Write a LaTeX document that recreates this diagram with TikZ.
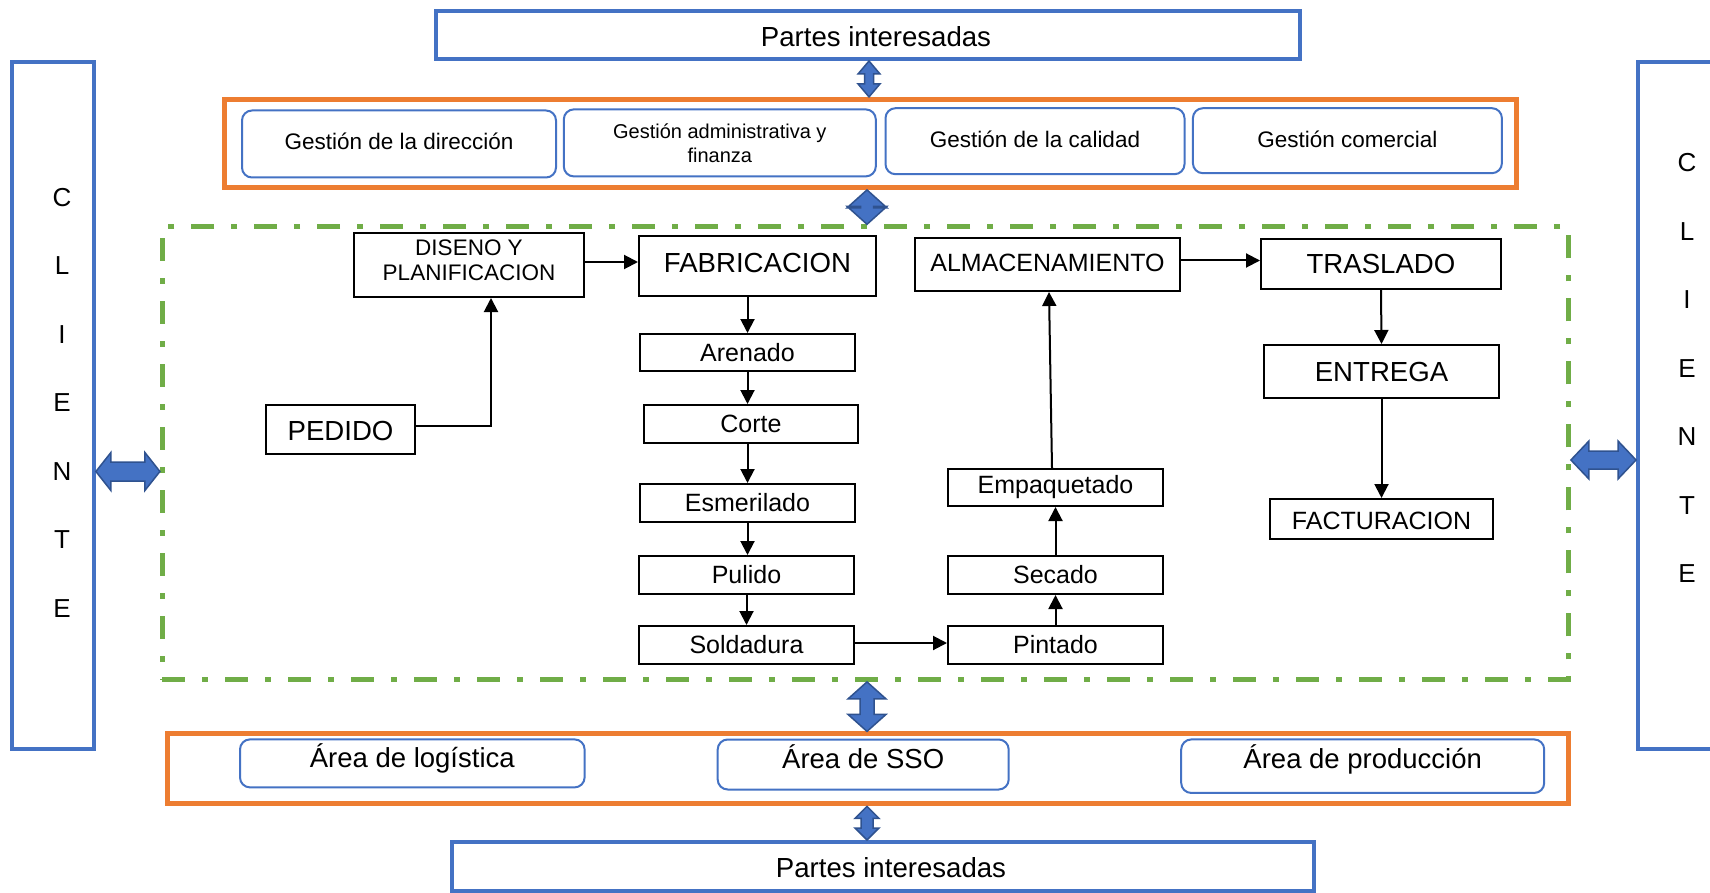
\documentclass[tikz,border=0pt]{standalone}
\usepackage{fontspec}
\setmainfont{Liberation Sans}
\usetikzlibrary{arrows.meta,calc}

\definecolor{frameblue}{HTML}{4472C4}
\definecolor{edgeblue}{HTML}{2F528F}
\definecolor{frameorange}{HTML}{ED7D31}
\definecolor{framegreen}{HTML}{70AD47}

\newcommand{\setfs}[2]{\fontsize{#1}{#2}\selectfont}

% vertical double block arrow: top tip, bottom tip, head width, shaft width, head length
\newcommand{\vblock}[5]{%
  \filldraw[blockarrow] (#1) -- ($(#1)+(#3/2,#5)$) -- ($(#1)+(#4/2,#5)$)
    -- ($(#2)+(#4/2,-#5)$) -- ($(#2)+(#3/2,-#5)$) -- (#2)
    -- ($(#2)+(-#3/2,-#5)$) -- ($(#2)+(-#4/2,-#5)$)
    -- ($(#1)+(-#4/2,#5)$) -- ($(#1)+(-#3/2,#5)$) -- cycle;}
% horizontal double block arrow: left tip, right tip, head height, shaft height, head length
\newcommand{\hblock}[5]{%
  \filldraw[blockarrow] (#1) -- ($(#1)+(#5,-#3/2)$) -- ($(#1)+(#5,-#4/2)$)
    -- ($(#2)+(-#5,-#4/2)$) -- ($(#2)+(-#5,-#3/2)$) -- (#2)
    -- ($(#2)+(-#5,#3/2)$) -- ($(#2)+(-#5,#4/2)$)
    -- ($(#1)+(#5,#4/2)$) -- ($(#1)+(#5,#3/2)$) -- cycle;}

\begin{document}
\begin{tikzpicture}[x=1pt,y=-1pt,
  bluebox/.style={draw=frameblue, line width=4pt, inner sep=0pt},
  roundbox/.style={draw=frameblue, line width=2pt, rounded corners=10pt, inner sep=0pt},
  orangeframe/.style={draw=frameorange, line width=5pt, inner sep=0pt},
  greenframe/.style={draw=framegreen, line width=5pt, inner sep=0pt,
    dash pattern=on 23pt off 17pt on 6pt off 17pt},
  stepbox/.style={draw=black, line width=2pt, inner sep=0pt},
  flow/.style={draw=black, line width=2pt, -{Triangle[length=14pt,width=14pt]}},
  blockarrow/.style={fill=frameblue, draw=edgeblue, line width=1.5pt, line join=miter},
  bigtxt/.style={font=\setfs{27.6}{30}},
  midtxt/.style={font=\setfs{25}{28}},
  smalltxt/.style={font=\setfs{22.5}{25}},
  raisetext/.style={text depth=#1}
]
\useasboundingbox (0,0) rectangle (1710,893);
\clip (0,0) rectangle (1710,893);
\fill[white] (0,0) rectangle (1710,893);

% ---- stakeholders and management layer
\node[bluebox, minimum width=864pt, minimum height=48pt] (partesTop) at (868,35) {};
\node[bigtxt] (partesTopTxt) at (876,37) {Partes interesadas};
\node[orangeframe, minimum width=1292pt, minimum height=88pt] (orangeTop) at (870,143.4) {};
\node[roundbox, minimum width=314pt, minimum height=67pt, smalltxt, raisetext=6pt] (g1) at (399,144) {Gestión de la dirección};
\node[roundbox, minimum width=312pt, minimum height=67pt, font=\setfs{20}{24}, align=center] (g2) at (719.8,142.9) {Gestión administrativa y\\finanza};
\node[roundbox, minimum width=299pt, minimum height=66pt, smalltxt, raisetext=3pt] (g3) at (1035,141.2) {Gestión de la calidad};
\node[roundbox, minimum width=309pt, minimum height=65pt, smalltxt, raisetext=3.5pt] (g4) at (1347.4,140.7) {Gestión comercial};

% ---- customer columns
\node[bluebox, minimum width=82pt, minimum height=687pt] (cliL) at (52.9,405.7) {};
\node[font=\setfs{26}{68.5}, align=center] (cliLtxt) at (62,402.5) {C\\L\\I\\E\\N\\T\\E};
\node[bluebox, minimum width=84pt, minimum height=687pt] (cliR) at (1680,405.7) {};
\node[font=\setfs{26}{68.5}, align=center] (cliRtxt) at (1687,368) {C\\L\\I\\E\\N\\T\\E};

% ---- process area
\node[greenframe, minimum width=1406pt, minimum height=452.6pt] (proc) at (865.4,453.1) {};

\node[stepbox, minimum width=230pt, minimum height=64pt, font=\setfs{22.5}{25}, align=center, raisetext=9pt] (diseno) at (469,265) {DISENO Y\\PLANIFICACION};
\node[stepbox, minimum width=149pt, minimum height=49pt, bigtxt, text height=23pt] (pedido) at (340.5,429.5) {PEDIDO};
\node[stepbox, minimum width=237pt, minimum height=59pt, bigtxt, raisetext=6pt] (fab) at (757.5,266) {FABRICACION};
\node[stepbox, minimum width=215pt, minimum height=37pt, midtxt] (aren) at (747.5,352.5) {Arenado};
\node[stepbox, minimum width=214pt, minimum height=38pt, midtxt] (corte) at (751,424) {Corte};
\node[stepbox, minimum width=215pt, minimum height=38pt, midtxt] (esm) at (747.5,503) {Esmerilado};
\node[stepbox, minimum width=215pt, minimum height=38pt, midtxt] (pul) at (746.5,575) {Pulido};
\node[stepbox, minimum width=215pt, minimum height=38pt, midtxt] (sold) at (746.5,645) {Soldadura};
\node[stepbox, minimum width=215pt, minimum height=38pt, midtxt] (pint) at (1055.5,645) {Pintado};
\node[stepbox, minimum width=215pt, minimum height=38pt, midtxt] (sec) at (1055.5,575) {Secado};
\node[stepbox, minimum width=215pt, minimum height=37pt, midtxt] (emp) at (1055.5,487.5) {Empaquetado};
\node[stepbox, minimum width=265pt, minimum height=53pt, midtxt, raisetext=4pt] (alm) at (1047.5,264.5) {ALMACENAMIENTO};
\node[stepbox, minimum width=240pt, minimum height=50pt, bigtxt] (tras) at (1381,264) {TRASLADO};
\node[stepbox, minimum width=235pt, minimum height=53pt, bigtxt] (ent) at (1381.5,371.5) {ENTREGA};
\node[stepbox, minimum width=223pt, minimum height=40pt, midtxt, text height=22pt] (fact) at (1381.5,519) {FACTURACION};

% ---- process flow
\draw[flow] ([yshift=4pt]pedido.east) -| ([xshift=22pt]diseno.south);
\draw[flow] ([yshift=3pt]diseno.east) -- ([yshift=3pt]diseno.east -| fab.west);
\draw[flow] (aren.north |- fab.south) -- (aren.north);
\draw[flow] (aren.south) -- (aren.south |- corte.north);
\draw[flow] (esm.north |- corte.south) -- (esm.north);
\draw[flow] (esm.south) -- (esm.south |- pul.north);
\draw[flow] (pul.south) -- (sold.north);
\draw[flow] ([yshift=2pt]sold.east) -- ([yshift=2pt]sold.east -| pint.west);
\draw[flow] (pint.north) -- (sec.south);
\draw[flow] (sec.north) -- (emp.south);
\draw[flow] ([xshift=-3.5pt]emp.north) -- ([xshift=1.5pt]alm.south);
\draw[flow] ([yshift=4pt]alm.east) -- ([yshift=4pt]alm.east -| tras.west);
\draw[flow] (tras.south) -- (ent.north);
\draw[flow] (ent.south) -- (fact.north);

% ---- support areas and stakeholders
\node[orangeframe, minimum width=1401pt, minimum height=70pt] (orangeBot) at (867.6,768.9) {};
\node[roundbox, minimum width=344.6pt, minimum height=48pt] (a1) at (412.3,763.4) {};
\node[roundbox, minimum width=291pt, minimum height=50pt] (a2) at (863.2,764.5) {};
\node[roundbox, minimum width=363pt, minimum height=53.5pt] (a3) at (1362.7,766.2) {};
\node[font=\setfs{27.5}{30}] (a1txt) at ($(a1.center)+(0,-4.5)$) {Área de logística};
\node[font=\setfs{27.5}{30}] (a2txt) at ($(a2.center)+(0,-7.5)$) {Área de SSO};
\node[font=\setfs{27.5}{30}] (a3txt) at ($(a3.center)+(0,-7)$) {Área de producción};
\node[bluebox, minimum width=862.5pt, minimum height=49pt] (partesBot) at (882.8,866.5) {};
\node[bigtxt] (partesBotTxt) at (891,868) {Partes interesadas};

% ---- block arrows between layers
\coordinate (axA) at (869,0);
\coordinate (axB) at (867,0);
\coordinate (ayL) at (0,471.5);
\coordinate (ayR) at (0,460);
\vblock{partesTop.south -| axA}{orangeTop.north -| axA}{22}{9}{13}
\vblock{orangeTop.south -| axB}{proc.north -| axB}{40}{13}{18}
\vblock{proc.south -| axB}{orangeBot.north -| axB}{38}{14}{17}
\vblock{orangeBot.south -| axB}{partesBot.north -| axB}{24}{12}{12}
\hblock{cliL.east |- ayL}{proc.west |- ayL}{38}{19}{15}
\hblock{proc.east |- ayR}{cliR.west |- ayR}{38}{18}{18}
\end{tikzpicture}
\end{document}
